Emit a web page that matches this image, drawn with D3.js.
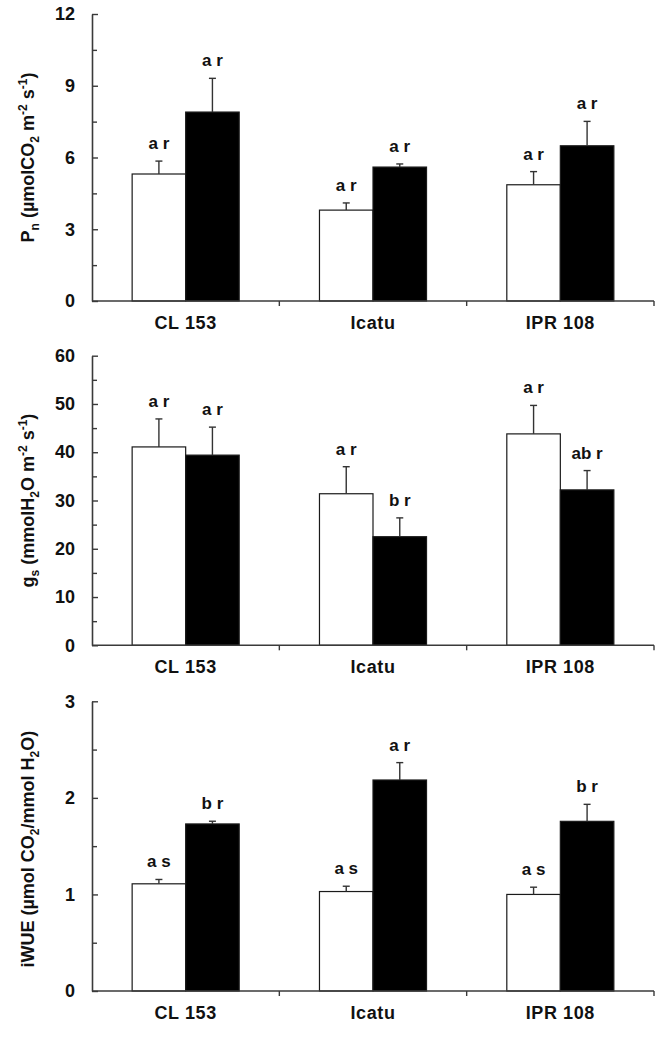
<!DOCTYPE html>
<html>
<head>
<meta charset="utf-8">
<script src="https://cdn.jsdelivr.net/npm/d3@7"></script>
<style>
  html, body { margin: 0; padding: 0; background: #fff; }
  svg { display: block; }
  text { font-family: Arial, "Liberation Sans", Helvetica, sans-serif; font-weight: bold; fill: #111; }
</style>
</head>
<body>
<svg id="chart" width="662" height="1037"></svg>
<script>
// ---------- data ----------
const cultivars = ["CL 153", "Icatu", "IPR 108"];
const series = ["white", "black"];

const pnWhite = [5.31, 3.80, 4.86];
const pnWhiteErr = [0.54, 0.30, 0.55];
const pnBlack = [7.90, 5.60, 6.49];
const pnBlackErr = [1.41, 0.13, 1.02];
const pnWhiteLetters = ["a r", "a r", "a r"];
const pnBlackLetters = ["a r", "a r", "a r"];
const pnTicks = [0, 3, 6, 9, 12];

const gsWhite = [41.1, 31.4, 43.8];
const gsWhiteErr = [5.8, 5.6, 5.9];
const gsBlack = [39.4, 22.5, 32.2];
const gsBlackErr = [5.8, 3.9, 4.0];
const gsWhiteLetters = ["a r", "a r", "a r"];
const gsBlackLetters = ["a r", "b r", "ab r"];
const gsTicks = [0, 10, 20, 30, 40, 50, 60];

const wueWhite = [1.11, 1.03, 1.00];
const wueWhiteErr = [0.045, 0.055, 0.075];
const wueBlack = [1.73, 2.185, 1.757];
const wueBlackErr = [0.028, 0.18, 0.176];
const wueWhiteLetters = ["a s", "a s", "a s"];
const wueBlackLetters = ["b r", "a r", "b r"];
const wueTicks = [0, 1, 2, 3];

// ---------- drawing ----------
const svg = d3.select("#chart");
const X0 = 92, X1 = 654;
const AXIS = "#3a3a3a";

function drawPanel(cfg) {
  const g = svg.append("g");
  const xBand = d3.scaleBand().domain(cultivars).range([X0, X1]).padding(0);
  const xSub = d3.scaleBand().domain(series).range([0, xBand.bandwidth()])
    .paddingInner(0).paddingOuter(0.75);
  const y = d3.scaleLinear().domain([0, cfg.max]).range([cfg.bottom, cfg.top]);

  const rows = [];
  cultivars.forEach((c, i) => {
    rows.push({c, s: "white", v: cfg.white[i], e: cfg.whiteErr[i], lab: cfg.whiteLetters[i]});
    rows.push({c, s: "black", v: cfg.black[i], e: cfg.blackErr[i], lab: cfg.blackLetters[i]});
  });

  // bars
  g.selectAll("rect.bar").data(rows).enter().append("rect")
    .attr("x", d => xBand(d.c) + xSub(d.s))
    .attr("y", d => y(d.v))
    .attr("width", xSub.bandwidth())
    .attr("height", d => y(0) - y(d.v))
    .attr("fill", d => d.s === "white" ? "#fff" : "#000")
    .attr("stroke", "#1a1a1a")
    .attr("stroke-width", 1.2);

  // error bars (upper only)
  const cx = d => xBand(d.c) + xSub(d.s) + xSub.bandwidth() / 2;
  g.selectAll("line.err").data(rows).enter().append("line")
    .attr("x1", cx).attr("x2", cx)
    .attr("y1", d => y(d.v)).attr("y2", d => y(d.v + d.e))
    .attr("stroke", "#333").attr("stroke-width", 1.4);
  g.selectAll("line.cap").data(rows).enter().append("line")
    .attr("x1", d => cx(d) - 3.5).attr("x2", d => cx(d) + 3.5)
    .attr("y1", d => y(d.v + d.e)).attr("y2", d => y(d.v + d.e))
    .attr("stroke", "#333").attr("stroke-width", 1.4);

  // letters
  g.selectAll("text.lab").data(rows).enter().append("text")
    .attr("x", cx)
    .attr("y", d => y(d.v + d.e) - 12)
    .attr("text-anchor", "middle")
    .attr("font-size", 17)
    .text(d => d.lab);

  // y axis
  const minor = [];
  for (let i = 0; i < cfg.ticks.length - 1; i++) minor.push((cfg.ticks[i] + cfg.ticks[i + 1]) / 2);
  const yMinor = g.append("g").attr("transform", `translate(${X0},0)`)
    .call(d3.axisLeft(y).tickValues(minor).tickSizeInner(-5).tickSizeOuter(0).tickFormat(""));
  yMinor.select(".domain").remove();
  yMinor.selectAll("line").attr("stroke", AXIS).attr("stroke-width", 1.4);

  const yAx = g.append("g").attr("transform", `translate(${X0},0)`)
    .call(d3.axisLeft(y).tickValues(cfg.ticks).tickSizeInner(-6).tickSizeOuter(0).tickPadding(17)
      .tickFormat(d3.format("d")));
  yAx.select(".domain").attr("stroke", AXIS).attr("stroke-width", 1.6);
  yAx.selectAll("line").attr("stroke", AXIS).attr("stroke-width", 1.4);
  yAx.selectAll("text").attr("font-size", 18).attr("font-family", "Arial, 'Liberation Sans', sans-serif")
    .attr("font-weight", "bold").attr("fill", "#111");

  // x axis
  g.append("line").attr("x1", X0).attr("x2", X1).attr("y1", y(0)).attr("y2", y(0))
    .attr("stroke", AXIS).attr("stroke-width", 1.6);
  const bounds = cultivars.map(c => xBand(c) + xBand.bandwidth());
  g.selectAll("line.xt").data(bounds).enter().append("line")
    .attr("x1", d => d).attr("x2", d => d)
    .attr("y1", y(0)).attr("y2", y(0) + 5)
    .attr("stroke", AXIS).attr("stroke-width", 1.4);
  g.selectAll("text.xl").data(cultivars).enter().append("text")
    .attr("x", c => xBand(c) + xBand.bandwidth() / 2)
    .attr("y", y(0) + 28)
    .attr("text-anchor", "middle")
    .attr("font-size", 18)
    .attr("letter-spacing", 0.6)
    .text(c => c);

  // y title
  const t = g.append("text")
    .attr("transform", `translate(34,${(cfg.top + cfg.bottom) / 2 + (cfg.titleShift || 0)}) rotate(-90)`)
    .attr("text-anchor", "middle")
    .attr("font-size", 18);
  cfg.title.forEach(p => {
    const ts = t.append("tspan").text(p.t);
    if (p.k === "sub") ts.attr("font-size", 12).attr("dy", 5);
    else if (p.k === "sup") ts.attr("font-size", 12).attr("dy", -7);
    if (p.reset) ts.attr("dy", p.reset);
  });
}

function titleParts(list) {
  // convert into tspans with proper baseline resets
  const out = [];
  let shift = 0;
  list.forEach(([txt, kind]) => {
    let target = kind === "sub" ? 5 : kind === "sup" ? -7 : 0;
    out.push({t: txt, k: kind, reset: target - shift});
    shift = target;
  });
  return out;
}

drawPanel({
  top: 14, bottom: 301, max: 12, ticks: pnTicks,
  white: pnWhite, whiteErr: pnWhiteErr, black: pnBlack, blackErr: pnBlackErr,
  whiteLetters: pnWhiteLetters, blackLetters: pnBlackLetters,
  title: titleParts([["P", "n"], ["n", "sub"], [" (µmolCO", "n"], ["2", "sub"], [" m", "n"], ["-2", "sup"], [" s", "n"], ["-1", "sup"], [")", "n"]])
});

drawPanel({
  top: 355.7, bottom: 645.3, max: 60, ticks: gsTicks,
  white: gsWhite, whiteErr: gsWhiteErr, black: gsBlack, blackErr: gsBlackErr,
  whiteLetters: gsWhiteLetters, blackLetters: gsBlackLetters,
  title: titleParts([["g", "n"], ["s", "sub"], [" (mmolH", "n"], ["2", "sub"], ["O m", "n"], ["-2", "sup"], [" s", "n"], ["-1", "sup"], [")", "n"]])
});

drawPanel({
  top: 701.3, bottom: 991, max: 3, ticks: wueTicks, titleShift: 3,
  white: wueWhite, whiteErr: wueWhiteErr, black: wueBlack, blackErr: wueBlackErr,
  whiteLetters: wueWhiteLetters, blackLetters: wueBlackLetters,
  title: titleParts([["iWUE (µmol CO", "n"], ["2", "sub"], ["/mmol H", "n"], ["2", "sub"], ["O)", "n"]])
});
</script>
</body>
</html>
